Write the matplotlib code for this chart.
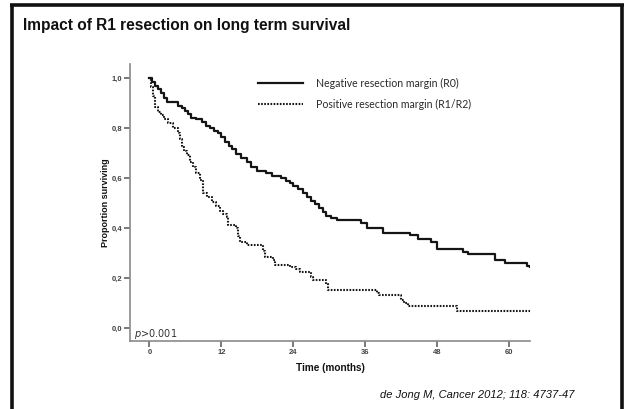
import matplotlib
matplotlib.use("Agg")
import matplotlib.pyplot as plt
from matplotlib.lines import Line2D

# Kaplan-Meier estimates (months, proportion surviving), step changes
r0_months = [0, 0.5, 1.0, 1.5, 2.0, 2.5, 3.0, 4.8, 5.4, 5.9, 6.5, 7.0, 7.8, 8.7, 9.4,
             10.1, 10.8, 11.5, 12.0, 12.6, 13.2, 13.8, 14.5, 15.3, 16.2, 17.0, 17.9,
             19.5, 20.5, 22.0, 22.8, 23.4, 24.0, 24.8, 25.6, 26.3, 27.0, 27.6, 28.3,
             28.9, 29.5, 30.3, 31.2, 35.3, 36.3, 39.0, 43.5, 44.8, 47.0, 47.9, 52.3,
             53.1, 57.6, 59.2, 62.9, 63.4]
r0_surv = [1.0, 0.985, 0.97, 0.955, 0.94, 0.92, 0.905, 0.89, 0.88, 0.87, 0.855, 0.84,
           0.835, 0.825, 0.81, 0.80, 0.79, 0.78, 0.765, 0.745, 0.73, 0.715, 0.695,
           0.68, 0.665, 0.645, 0.63, 0.62, 0.61, 0.60, 0.59, 0.58, 0.57, 0.555, 0.54,
           0.525, 0.51, 0.495, 0.48, 0.465, 0.45, 0.44, 0.432, 0.42, 0.401, 0.381,
           0.372, 0.355, 0.345, 0.315, 0.305, 0.295, 0.272, 0.259, 0.25, 0.243]

r1_months = [0, 0.3, 0.6, 0.9, 1.4, 2.0, 2.5, 3.1, 4.0, 4.8, 5.1, 5.4, 5.8, 6.2, 6.7,
             7.3, 7.8, 8.4, 9.0, 9.6, 10.4, 11.1, 11.75, 12.3, 12.9, 13.1, 14.5, 14.8,
             15.1, 16.2, 19.0, 19.3, 20.6, 20.9, 23.4, 24.5, 25.1, 27.0, 27.2, 29.5,
             29.8, 37.9, 38.2, 42.0, 42.5, 43.1, 51.2, 63.4]
r1_surv = [1.0, 0.965, 0.93, 0.885, 0.865, 0.852, 0.835, 0.819, 0.80, 0.779, 0.755,
           0.725, 0.71, 0.692, 0.665, 0.645, 0.62, 0.592, 0.539, 0.525, 0.505, 0.49,
           0.47, 0.455, 0.445, 0.412, 0.40, 0.37, 0.345, 0.332, 0.31, 0.285, 0.272,
           0.252, 0.245, 0.235, 0.225, 0.205, 0.192, 0.175, 0.152, 0.142, 0.132,
           0.112, 0.10, 0.088, 0.068, 0.068]

series_labels = ["Negative resection margin (R0)", "Positive resection margin (R1/R2)"]
x_ticks = [0, 12, 24, 36, 48, 60]
y_ticks = [0.0, 0.2, 0.4, 0.6, 0.8, 1.0]
y_tick_labels = ["0,0", "0,2", "0,4", "0,6", "0,8", "1,0"]

W, H = 624, 409
fig = plt.figure(figsize=(W / 100, H / 100), dpi=100)
fig.patch.set_facecolor("white")

# slide frame: left, top and right edges
frame_kw = dict(color="#111111", lw=2.6, transform=fig.transFigure, solid_capstyle="butt")
fig.add_artist(Line2D([11.5 / W, 11.5 / W], [0, 1 - 4.5 / H], **frame_kw))
fig.add_artist(Line2D([10.2 / W, 623.5 / W], [1 - 4.5 / H, 1 - 4.5 / H], **frame_kw))
fig.add_artist(Line2D([622 / W, 622 / W], [0, 1 - 4.5 / H], **frame_kw))

fig.text(23 / W, 1 - 25.5 / H, "Impact of R1 resection on long term survival",
         fontsize=11.2, fontweight="bold", family="Liberation Sans",
         ha="left", va="center", color="#111111")

ax = fig.add_axes([130 / W, 1 - 341 / H, 400 / W, 277 / H])
ax.set_xlim(-3.25, 63.42)
ax.set_ylim(-0.052, 1.056)

ax.plot(r0_months, r0_surv, drawstyle="steps-post", color="#151515", lw=1.6,
        label=series_labels[0])
ax.plot(r1_months, r1_surv, drawstyle="steps-post", color="#151515", lw=1.5,
        linestyle=(0, (0.8, 0.7)), label=series_labels[1])

for side in ("top", "right"):
    ax.spines[side].set_visible(False)
for side in ("left", "bottom"):
    ax.spines[side].set_color("#8a8a8a")
    ax.spines[side].set_linewidth(1.2)

ax.set_xticks(x_ticks)
ax.set_xticklabels([str(v) for v in x_ticks])
ax.set_yticks(y_ticks)
ax.set_yticklabels(y_tick_labels)
ax.tick_params(axis="both", direction="out", length=4, width=1.1, color="#555555",
               labelsize=5.5, labelcolor="#444444", pad=1.5)
for lab in ax.get_xticklabels() + ax.get_yticklabels():
    lab.set_family("Liberation Sans")
    lab.set_fontweight("bold")

ax.set_xlabel("Time (months)", fontsize=7.2, fontweight="bold",
              family="Liberation Sans", labelpad=5, color="#111111")
ax.set_ylabel("Proportion surviving", fontsize=6.5, fontweight="bold",
              family="Liberation Sans", labelpad=1, color="#111111")

ax.text(-2.5, -0.035, r"$\it{p}$>0.001", fontsize=7, family="DejaVu Sans",
        color="#333333", ha="left", va="baseline")

leg = ax.legend(loc="upper left", bbox_to_anchor=((258 - 130) / 400, (341 - 78) / 277),
                frameon=False, fontsize=7.6, handlelength=4.3, handletextpad=1.2,
                labelspacing=0.95, borderaxespad=0, borderpad=0)
for t in leg.get_texts():
    t.set_family("Lato")
    t.set_color("#2a2a2a")

fig.text(575 / W, 1 - 398 / H, "de Jong M, Cancer 2012; 118: 4737-47",
         fontsize=8, style="italic", family="Liberation Sans",
         ha="right", va="baseline", color="#111111")

fig.savefig("out.png", dpi=100)
